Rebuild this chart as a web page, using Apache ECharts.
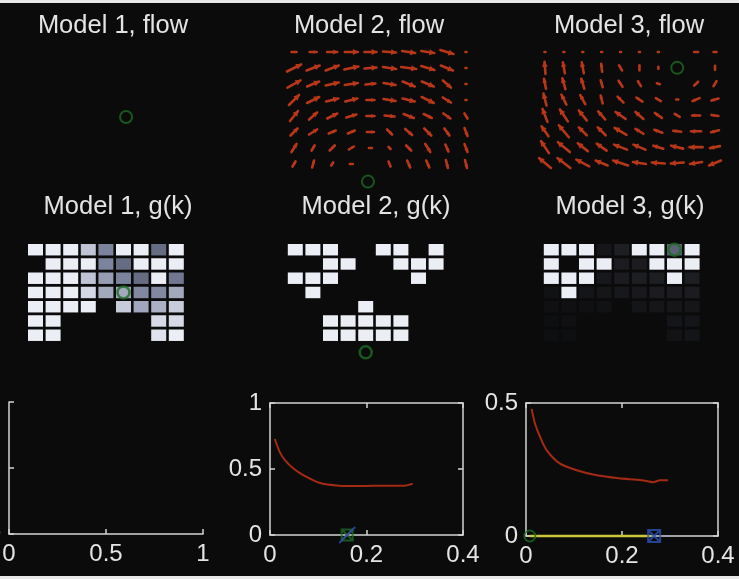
<!DOCTYPE html>
<html>
<head>
<meta charset="utf-8">
<script src="https://cdn.jsdelivr.net/npm/echarts@6/dist/echarts.min.js"></script>
<style>
  html, body { margin: 0; padding: 0; background: #0b0b0b; }
  #chart { width: 739px; height: 579px; }
</style>
</head>
<body>
<div id="chart"></div>
<script>
// ---- Flow fields: 8 rows (top to bottom) x 10 columns, horizontal / vertical (up) components ----
const flow2U = [
  [5, 7, 10, 13, 12, 13, 13, 13, 13, 1],
  [14, 13, 13, 14, 12, 13, 15, 13, 12, 1],
  [13, 12, 13, 13, 10, 12, 12, 12, 8, 1],
  [10, 12, 12, 12, 8, 12, 12, 12, 8, 1],
  [8, 8, 10, 10, 8, 10, 10, 8, 7, 3],
  [7, 8, 7, 7, 7, 5, 7, 7, 5, 3],
  [5, 3, 5, 5, 3, 2, 5, 5, 3, 3],
  [3, 2, 2, 3, 0, 2, 3, 3, 2, 2]
];
const flow2V = [
  [0, 0, 0, 0, 0, -1, -2, -2, -4, 0],
  [7, 5, 5, 3, 1, -2, -2, -4, -5, 0],
  [7, 5, 3, 2, 1, -2, -5, -5, -7, 0],
  [10, 6, 3, 3, 0, -2, -3, -6, -5, 0],
  [10, 7, 5, 3, 0, -1, -4, -4, -5, -5],
  [7, 5, 3, 3, 0, -5, -6, -7, -7, -8],
  [8, 5, 5, 3, 0, -2, -5, -8, -7, -8],
  [5, 7, 3, 0, 0, -5, -7, -7, -8, -8]
];
const flow3U = [
  [1, 1, 1, 1, 1, 1, 1, 0, 4, 3],
  [-1, -2, -2, -1, -3, 0, 0, 0, 0, 0],
  [-2, -3, -3, -2, -4, -3, -3, 0, -4, -3],
  [-3, -5, -5, -2, -6, -6, -5, -2, -7, -7],
  [-5, -8, -8, -7, -10, -8, -7, -5, -8, -7],
  [-7, -10, -8, -8, -12, -8, -8, -8, -10, -8],
  [-8, -12, -10, -10, -13, -12, -10, -12, -13, -10],
  [-12, -13, -13, -12, -15, -13, -13, -13, -12, -12]
];
const flow3V = [
  [0, 0, 0, 0, 0, 0, 0, 0, 0, 0],
  [12, 11, 11, 8, 5, 5, 2, 0, 0, -4],
  [10, 11, 10, 7, 6, 5, 1, 0, -4, -5],
  [12, 10, 9, 8, 6, 4, 3, 0, -3, -2],
  [13, 12, 10, 8, 7, 7, 5, 3, 0, 1],
  [10, 12, 8, 8, 7, 5, 3, 1, 0, -2],
  [12, 10, 8, 7, 5, 5, 3, 3, 0, -2],
  [10, 10, 7, 5, 5, 2, 1, -1, -2, -5]
];
// marked location in each flow panel: [column, row]
const flowMark1 = [4.66, 4.06];
const flowMark2 = [3.87, 8.1];
const flowMark3 = [7.0, 1.0];

// ---- g(k) cell grids: 7 rows x 9 columns, value 0 (dark) .. 1 (white), null = no cell ----
const gk1 = [
  [1, 1, 1, 0.85, 0.6, 1, 1, 0.5, 1],
  [null, 1, 1, 1, 0.6, 0.5, 1, 1, 1],
  [1, 1, 1, 0.85, 0.7, 0.6, 0.5, 1, 0.55],
  [1, 1, 1, 0.92, 0.75, 0.75, 0.62, 0.62, 0.75],
  [1, 1, 1, 1, null, 0.88, 0.74, 0.78, 0.88],
  [1, 1, null, null, null, null, null, 0.93, 0.93],
  [1, 1, null, null, null, null, null, 0.96, 1]
];
const gk2 = [
  [1, 1, 1, null, null, 1, 1, null, 1],
  [null, null, 1, 1, null, null, 1, 1, 1],
  [1, 1, 1, null, null, null, null, 1, null],
  [null, 1, null, null, null, null, null, null, null],
  [null, null, null, null, 1, null, null, null, null],
  [null, null, 1, 1, 1, 1, 1, null, null],
  [null, null, 1, 1, 1, 1, 1, null, null]
];
const gk3 = [
  [1, 1, 1, 0.06, 0.12, 1, 1, 0.45, 1],
  [1, null, 1, 1, 0.1, 0.1, 1, 1, 1],
  [1, 1, 1, 0.07, 0.1, 0.11, 0.11, 1, 0.11],
  [0.03, 1, 0.05, 0.06, 0.07, 0.08, 0.1, 0.1, 0.1],
  [0.02, 0.02, 0.02, 0.03, null, 0.05, 0.06, 0.06, 0.06],
  [0.01, 0.02, null, null, null, null, null, 0.05, 0.05],
  [0.01, 0.01, null, null, null, null, null, 0.04, 0.05]
];
const gkMark1 = [5, 3];
const gkMark2 = [4, 7.2];
const gkMark3 = [7, 0];

// ---- Curves ----
const curve2X = [0.010, 0.020, 0.031, 0.048, 0.068, 0.102, 0.143, 0.190, 0.238, 0.279, 0.296];
const curve2Y = [0.727, 0.630, 0.568, 0.505, 0.455, 0.396, 0.374, 0.371, 0.374, 0.374, 0.389];
const curve3X = [0.0117, 0.0185, 0.029, 0.0425, 0.070, 0.104, 0.145, 0.193, 0.241, 0.265, 0.279, 0.296];
const curve3Y = [0.478, 0.424, 0.374, 0.324, 0.273, 0.248, 0.229, 0.217, 0.210, 0.202, 0.210, 0.210];
const segment3X = [0.008, 0.26];
const segment3Y = [0, 0];
const marker2X = 0.16;
const marker3GreenX = 0.008;
const marker3BlueX = 0.267;

// tick labels
const xTicks1 = [0, 0.5, 1];
const xTicks23 = [0, 0.2, 0.4];
const titles = ['Model 1, flow', 'Model 2, flow', 'Model 3, flow', 'Model 1, g(k)', 'Model 2, g(k)', 'Model 3, g(k)'];

// ---- styling ----
const FONT = 'Liberation Sans';
const TEXT = '#e4e4e4';
const AXIS = '#d4d4d4';
const ARROW = '#b93719';
const GREEN = '#1e6a26';
const BLUE = '#2c50b5';
const ARROW_PX_PER_CELL = 19;

function fieldData(U, V) {
  const out = [];
  U.forEach((row, r) => row.forEach((u, c) => out.push([c, r, u, V[r][c]])));
  return out;
}
function cellData(G) {
  const out = [];
  G.forEach((row, r) => row.forEach((v, c) => { if (v !== null) out.push([c, r, v]); }));
  return out;
}
function zip(xs, ys) { return xs.map((x, i) => [x, ys[i]]); }

function arrowItem(params, api) {
  const p = api.coord([api.value(0), api.value(1)]);
  const unit = api.size([1, 0])[0] / ARROW_PX_PER_CELL;
  const dx = api.value(2) * unit, dy = -api.value(3) * unit;
  const len = Math.hypot(dx, dy);
  const x0 = p[0] - dx / 2, y0 = p[1] - dy / 2, x1 = p[0] + dx / 2, y1 = p[1] + dy / 2;
  const children = [{
    type: 'line', shape: { x1: x0, y1: y0, x2: x1, y2: y1 },
    style: { stroke: ARROW, lineWidth: 2.6, lineCap: 'round' }
  }];
  if (len > 3) {
    const h = Math.min(5, len * 0.4), w = h * 0.6;
    const ux = dx / len, uy = dy / len;
    children.push({
      type: 'polygon',
      shape: { points: [[x1 + ux, y1 + uy], [x1 - ux * h - uy * w, y1 - uy * h + ux * w], [x1 - ux * h + uy * w, y1 - uy * h - ux * w]] },
      style: { fill: ARROW }
    });
  }
  return { type: 'group', children };
}

function cellItem(params, api) {
  const p = api.coord([api.value(0), api.value(1)]);
  const s = api.size([1, 1]);
  const w = s[0] - 2.6, h = s[1] - 2.8;
  return { type: 'rect', shape: { x: p[0] - w / 2, y: p[1] - h / 2, width: w, height: h }, style: { fill: api.visual('color') } };
}

const hiddenAxis = (min, max, inverse) => ({ type: 'value', show: false, min, max, inverse: !!inverse });
const labelStyle = { color: TEXT, fontSize: 24, fontFamily: FONT };
const lineStyle = { color: AXIS, width: 1.5 };
function plotAxis(extra) {
  return Object.assign({
    type: 'value',
    splitLine: { show: false },
    axisLine: { show: true, onZero: false, lineStyle },
    axisTick: { show: true, inside: true, length: 5, lineStyle },
    axisLabel: Object.assign({ margin: 8 }, labelStyle)
  }, extra);
}
const boxAxis = (extra) => plotAxis(Object.assign({ axisLabel: { show: false } }, extra));
const panel = (left, top, width, height) => ({ left, top, width, height, outerBoundsMode: 'none', containLabel: false });

const option = {
  backgroundColor: '#0b0b0b',
  animation: false,
  title: titles.map((t, i) => ({
    text: t,
    left: [108, 364, 624, 113, 371, 625][i],
    top: i < 3 ? 8 : 189,
    textAlign: 'center',
    textStyle: { color: TEXT, fontSize: 25.5, fontWeight: 'normal', fontFamily: FONT }
  })),
  graphic: [
    { type: 'rect', shape: { x: 0, y: 0, width: 739, height: 3 }, style: { fill: '#e8e8e8' }, silent: true },
    { type: 'rect', shape: { x: 0, y: 576, width: 739, height: 3 }, style: { fill: '#e8e8e8' }, silent: true }
  ],
  grid: [
    panel(37, 52, 172, 112),
    panel(294, 52, 172, 112),
    panel(545, 52, 170, 111),
    panel(26.7, 242.6, 158.4, 99.75),
    panel(286.5, 242.6, 158.4, 99.75),
    panel(542.5, 242.6, 158.4, 99.75),
    panel(9, 402, 194, 132),
    panel(270, 403, 193, 132),
    panel(526, 403, 192, 133)
  ],
  xAxis: [
    Object.assign(hiddenAxis(0, 9), { gridIndex: 0 }),
    Object.assign(hiddenAxis(0, 9), { gridIndex: 1 }),
    Object.assign(hiddenAxis(0, 9), { gridIndex: 2 }),
    Object.assign(hiddenAxis(-0.5, 8.5), { gridIndex: 3 }),
    Object.assign(hiddenAxis(-0.5, 8.5), { gridIndex: 4 }),
    Object.assign(hiddenAxis(-0.5, 8.5), { gridIndex: 5 }),
    plotAxis({ gridIndex: 6, min: xTicks1[0], max: xTicks1[2], interval: xTicks1[1] - xTicks1[0] }),
    plotAxis({ gridIndex: 7, min: xTicks23[0], max: xTicks23[2], interval: xTicks23[1] - xTicks23[0] }),
    plotAxis({ gridIndex: 8, min: xTicks23[0], max: xTicks23[2], interval: xTicks23[1] - xTicks23[0] }),
    boxAxis({ gridIndex: 7, position: 'top', min: 0, max: 0.4, interval: 0.2 }),
    boxAxis({ gridIndex: 8, position: 'top', min: 0, max: 0.4, interval: 0.2 })
  ],
  yAxis: [
    Object.assign(hiddenAxis(0, 7, true), { gridIndex: 0 }),
    Object.assign(hiddenAxis(0, 7, true), { gridIndex: 1 }),
    Object.assign(hiddenAxis(0, 7, true), { gridIndex: 2 }),
    Object.assign(hiddenAxis(-0.5, 6.5, true), { gridIndex: 3 }),
    Object.assign(hiddenAxis(-0.5, 6.5, true), { gridIndex: 4 }),
    Object.assign(hiddenAxis(-0.5, 6.5, true), { gridIndex: 5 }),
    plotAxis({ gridIndex: 6, min: 0, max: 1, interval: 0.5 }),
    plotAxis({ gridIndex: 7, min: 0, max: 1, interval: 0.5 }),
    plotAxis({ gridIndex: 8, min: 0, max: 0.5, interval: 0.5 }),
    boxAxis({ gridIndex: 7, position: 'right', min: 0, max: 1, interval: 0.5 }),
    boxAxis({ gridIndex: 8, position: 'right', min: 0, max: 0.5, interval: 0.5 })
  ],
  visualMap: {
    type: 'continuous', show: false, seriesIndex: [5, 6, 7], dimension: 2, min: 0, max: 1,
    inRange: { color: ['#0d0d0f', '#2a2b31', '#4f5468', '#7c839c', '#b0b5c8', '#eceef6'] }
  },
  series: [
    // 0-1: flow arrows
    { type: 'custom', xAxisIndex: 1, yAxisIndex: 1, renderItem: arrowItem, data: fieldData(flow2U, flow2V), clip: false },
    { type: 'custom', xAxisIndex: 2, yAxisIndex: 2, renderItem: arrowItem, data: fieldData(flow3U, flow3V), clip: false },
    // 2-4: flow marks
    ...[flowMark1, flowMark2, flowMark3].map((m, i) => ({
      type: 'scatter', xAxisIndex: i, yAxisIndex: i, data: [m], symbol: 'circle', symbolSize: 12, clip: false,
      itemStyle: { color: 'transparent', borderColor: GREEN, borderWidth: 2 }, z: 3
    })),
    // 5-7: g(k) cells
    ...[gk1, gk2, gk3].map((g, i) => ({
      type: 'custom', xAxisIndex: 3 + i, yAxisIndex: 3 + i, renderItem: cellItem, data: cellData(g), clip: false
    })),
    // 8-10: g(k) marks
    ...[gkMark1, gkMark2, gkMark3].map((m, i) => ({
      type: 'scatter', xAxisIndex: 3 + i, yAxisIndex: 3 + i, data: [m], symbol: 'circle', symbolSize: 12, clip: false,
      itemStyle: { color: 'transparent', borderColor: GREEN, borderWidth: 2.5 }, z: 3
    })),
    // curves
    { type: 'line', xAxisIndex: 7, yAxisIndex: 7, data: zip(curve2X, curve2Y), showSymbol: false, smooth: 0.25,
      lineStyle: { color: '#a42a14', width: 2 } },
    { type: 'line', xAxisIndex: 8, yAxisIndex: 8, data: zip(curve3X, curve3Y), showSymbol: false, smooth: 0.25,
      lineStyle: { color: '#a42a14', width: 2 } },
    { type: 'line', xAxisIndex: 8, yAxisIndex: 8, data: zip(segment3X, segment3Y), showSymbol: false, clip: false,
      lineStyle: { color: '#c8c83a', width: 2.5 } },
    // markers on the x axis
    { type: 'scatter', xAxisIndex: 7, yAxisIndex: 7, data: [[marker2X, 0]], clip: false, z: 4,
      symbol: 'path://M0,0H10V10H0ZM0,0L10,10M10,0L0,10', symbolSize: 11,
      itemStyle: { color: 'transparent', borderColor: GREEN, borderWidth: 2 } },
    { type: 'scatter', xAxisIndex: 7, yAxisIndex: 7, data: [[marker2X, 0]], clip: false, z: 5,
      symbol: 'path://M0,10L10,0', symbolSize: 16,
      itemStyle: { color: 'transparent', borderColor: BLUE, borderWidth: 1.8 } },
    { type: 'scatter', xAxisIndex: 8, yAxisIndex: 8, data: [[marker3BlueX, 0]], clip: false, z: 5,
      symbol: 'path://M0,0H10V10H0ZM0,0L10,10M10,0L0,10', symbolSize: 12,
      itemStyle: { color: 'transparent', borderColor: BLUE, borderWidth: 2 } },
    { type: 'scatter', xAxisIndex: 8, yAxisIndex: 8, data: [[marker3GreenX, 0]], clip: false, z: 5,
      symbol: 'circle', symbolSize: 11,
      itemStyle: { color: 'transparent', borderColor: GREEN, borderWidth: 2 } }
  ]
};

const chart = echarts.init(document.getElementById('chart'), null, { renderer: 'canvas' });
chart.setOption(option);
</script>
</body>
</html>
